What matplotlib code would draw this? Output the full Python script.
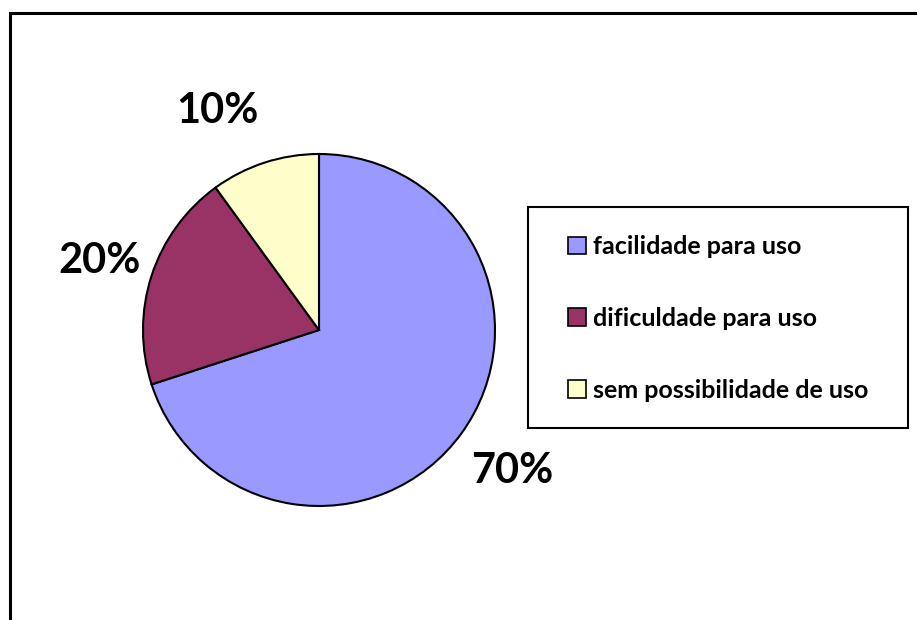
import numpy as np
import matplotlib.pyplot as plt
from matplotlib.patches import Rectangle

labels = ["facilidade para uso", "dificuldade para uso", "sem possibilidade de uso"]
values = [70, 20, 10]
colors = ["#9999FF", "#993366", "#FFFFCC"]
# label placement around each wedge: radial distance (in radii) and angle nudge (deg)
label_dist = [1.36, 1.31, 1.37]
label_nudge = [0.0, 0.5, 7.0]

W, H = 917, 620
fig = plt.figure(figsize=(W / 100, H / 100), dpi=100)
ax = fig.add_axes([0, 0, 1, 1])

cx, cy, r = 319, H - 330, 176
wedges, _ = ax.pie(values, colors=colors, startangle=90, counterclock=False,
                   center=(cx, cy), radius=r,
                   wedgeprops=dict(edgecolor="black", linewidth=1.5))
ax.set_xlim(0, W)
ax.set_ylim(0, H)
ax.set_aspect("equal")
ax.axis("off")

total = sum(values)
for w, v, d, n in zip(wedges, values, label_dist, label_nudge):
    mid = np.deg2rad((w.theta1 + w.theta2) / 2 + n)
    ax.text(cx + d * r * np.cos(mid), cy + d * r * np.sin(mid),
            "%d%%" % round(100 * v / total), ha="center", va="center",
            fontsize=30, fontweight="bold", family="Lato")

# legend box
ax.add_patch(Rectangle((528, H - 428), 380, 221, fill=False,
                       edgecolor="black", linewidth=1.5))
leg = ax.legend(wedges, labels, loc="center left",
                bbox_to_anchor=(568 / W, 1 - 318.5 / H),
                bbox_transform=fig.transFigure,
                prop=dict(family="Lato", weight="bold", size=18),
                frameon=False, borderpad=0, borderaxespad=0,
                labelspacing=1.95,
                handlelength=0.72, handleheight=0.72, handletextpad=0.28)
for h in leg.legend_handles:
    h.set_linewidth(1.2)

# outer chart border (cropped on the right and bottom)
fig.patches.append(Rectangle((9.5 / W, -0.05), 1.1, 1.05 - 12.5 / H,
                             transform=fig.transFigure, fill=False,
                             edgecolor="black", linewidth=2.2))

fig.savefig("out.png", dpi=100)
